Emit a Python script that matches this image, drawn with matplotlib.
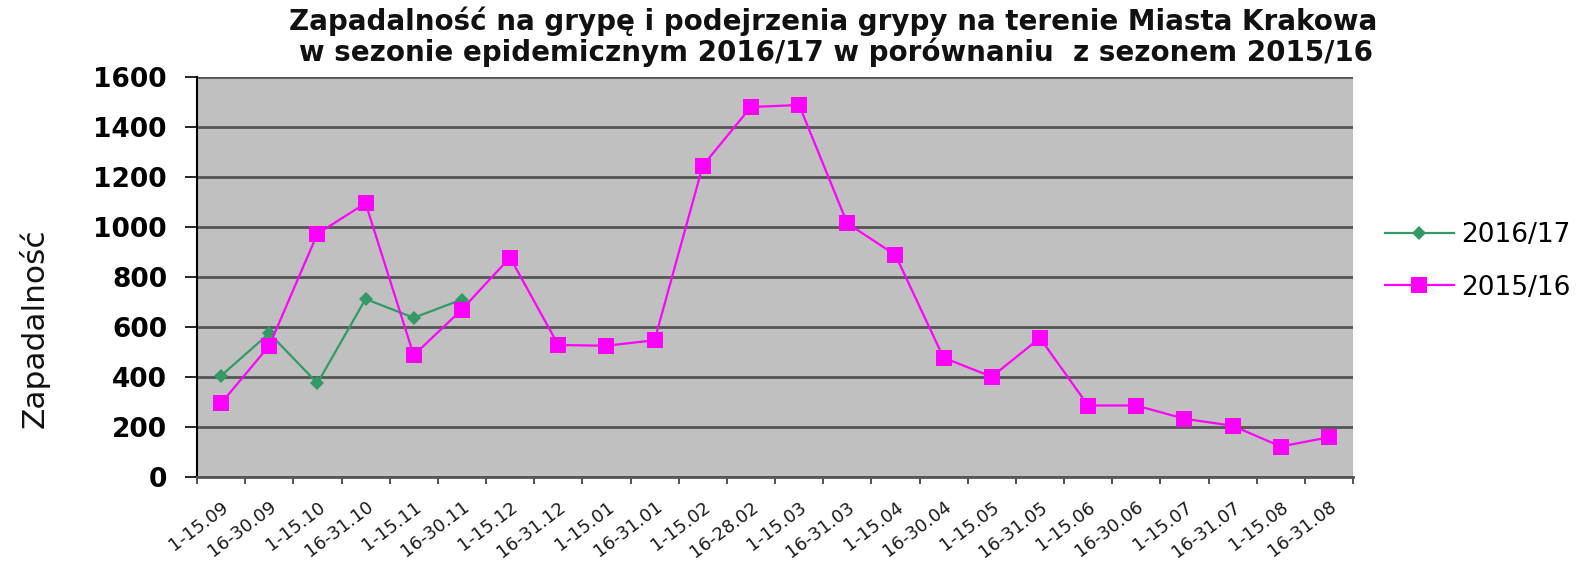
import matplotlib
matplotlib.use("Agg")
import matplotlib.pyplot as plt
import numpy as np

categories = ["1-15.09", "16-30.09", "1-15.10", "16-31.10", "1-15.11", "16-30.11",
              "1-15.12", "16-31.12", "1-15.01", "16-31.01", "1-15.02", "16-28.02",
              "1-15.03", "16-31.03", "1-15.04", "16-30.04", "1-15.05", "16-31.05",
              "1-15.06", "16-30.06", "1-15.07", "16-31.07", "1-15.08", "16-31.08"]
season_2016_17 = [405, 575, 375, 712, 637, 710]
season_2015_16 = [295, 525, 973, 1095, 487, 670, 878, 528, 525, 547, 1245, 1480,
                  1488, 1015, 888, 477, 401, 556, 286, 286, 233, 205, 122, 159]
yticks = [0, 200, 400, 600, 800, 1000, 1200, 1400, 1600]

plt.rcParams['font.family'] = ['DejaVu Sans']

W, H = 1580, 561
fig = plt.figure(figsize=(W / 100, H / 100), dpi=100)
ax = fig.add_axes([197 / W, 1 - 477 / H, (1353 - 197) / W, 400 / H])
ax.set_facecolor('#C0C0C0')

x = np.arange(len(categories))
l1, = ax.plot(x[:len(season_2016_17)], season_2016_17, color='#339966', lw=1.6,
              marker='D', markersize=7.5, markeredgewidth=0, label='2016/17', zorder=3)
l2, = ax.plot(x, season_2015_16, color='#FF00FF', lw=1.6,
              marker='s', markersize=12, markeredgewidth=0, label='2015/16', zorder=4)

ax.set_xlim(-0.5, len(categories) - 0.5)
ax.set_ylim(0, 1600)
ax.set_yticks(yticks, labels=[str(v) for v in yticks], fontsize=19, fontweight='bold')
ax.yaxis.grid(True, color='#555555', lw=2)
ax.set_axisbelow(True)

for s in ['top', 'right']:
    ax.spines[s].set_visible(False)
ax.spines['left'].set_color('black')
ax.spines['left'].set_linewidth(1.5)
ax.spines['bottom'].set_color('#555555')
ax.spines['bottom'].set_linewidth(2)

ax.tick_params(axis='y', length=8.6, width=1.2, pad=13, colors='black')

ax.set_xticks(np.arange(-0.5, len(categories)), labels=[])
ax.set_xticks(x, minor=True)
ax.set_xticklabels(categories, minor=True, rotation=37, ha='right', va='top',
                   rotation_mode='anchor', fontsize=13, color='#1a1a1a')
ax.tick_params(axis='x', which='major', length=5, width=1.2, color='#333333')
ax.tick_params(axis='x', which='minor', length=0, pad=15)

fig.text(0.527, 1 - 30 / H, "Zapadalność na grypę i podejrzenia grypy na terenie Miasta Krakowa",
         ha='center', va='baseline', fontsize=20, fontweight='bold', color='#111111')
fig.text(0.529, 1 - 61 / H, "w sezonie epidemicznym 2016/17 w porównaniu  z sezonem 2015/16",
         ha='center', va='baseline', fontsize=20, fontweight='bold', color='#111111')

fig.text(34 / W, 1 - 328 / H, "Zapadalność", rotation=90, ha='center', va='center',
         fontsize=22.5, color='#111111')

fig.legend([l1, l2], ['2016/17', '2015/16'], loc='center left',
           bbox_to_anchor=(1385 / W, 1 - 261.5 / H), frameon=False, fontsize=19,
           handlelength=2.6, handletextpad=0.3, labelspacing=1.0, borderpad=0,
           borderaxespad=0)

fig.savefig('out.png', dpi=100, facecolor='white')
